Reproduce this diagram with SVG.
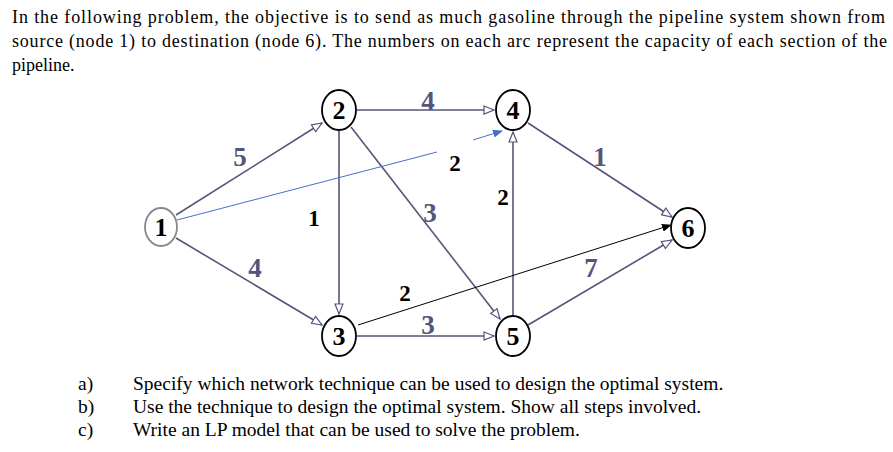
<svg xmlns="http://www.w3.org/2000/svg" width="893" height="452" viewBox="0 0 893 452">
<style>
text{font-family:"Liberation Serif","Times New Roman",Tinos,"DejaVu Serif",serif}
.t{font-size:18px;fill:#000}
.e{stroke:#55557a;stroke-width:1.6;fill:none;marker-end:url(#oa)}
.n ellipse{fill:#fff;stroke:#000;stroke-width:1.8}
</style>
<defs>
<marker id="oa" markerWidth="12" markerHeight="10" refX="11" refY="5" orient="auto" markerUnits="userSpaceOnUse"><path d="M1,1 L11,5 L1,9 Z" fill="#fff" stroke="#55557a" stroke-width="1.2"/></marker>
<marker id="fb" markerWidth="10" markerHeight="8" refX="9" refY="4" orient="auto" markerUnits="userSpaceOnUse"><path d="M0,0 L10,4 L0,8 Z" fill="#4472c4"/></marker>
<marker id="fk" markerWidth="10" markerHeight="8" refX="9" refY="4" orient="auto" markerUnits="userSpaceOnUse"><path d="M0,0 L10,4 L0,8 Z" fill="#000"/></marker>
</defs>
<text class="t" x="12" y="23" textLength="873" lengthAdjust="spacing">In the following problem, the objective is to send as much gasoline through the pipeline system shown from</text>
<text class="t" x="12" y="47" textLength="875" lengthAdjust="spacing">source (node 1) to destination (node 6). The numbers on each arc represent the capacity of each section of the</text>
<text class="t" x="12" y="71">pipeline.</text>
<g id="connectors">
<line class="e" x1="176" y1="215" x2="322" y2="123"/>
<line class="e" x1="176" y1="238" x2="322" y2="325"/>
<line class="e" x1="357" y1="110" x2="494" y2="110"/>
<line class="e" x1="339" y1="131" x2="339" y2="314"/>
<line class="e" x1="351" y1="127" x2="500" y2="319"/>
<line class="e" x1="357" y1="336" x2="494" y2="336"/>
<line class="e" x1="513" y1="315" x2="513" y2="132"/>
<line class="e" x1="528" y1="123" x2="672" y2="217"/>
<line class="e" x1="528" y1="325" x2="672" y2="240"/>
<line x1="177" y1="220" x2="437" y2="152" stroke="#4472c4" stroke-width="1"/>
<line x1="473" y1="140" x2="502" y2="131" stroke="#4472c4" stroke-width="1" marker-end="url(#fb)"/>
<line x1="358" y1="325" x2="671" y2="225" stroke="#000" stroke-width="1" marker-end="url(#fk)"/>
</g>
<g font-size="26" font-weight="bold" text-anchor="middle">
<g id="n1" class="n"><ellipse cx="161" cy="227" rx="16" ry="19" style="stroke:#888"/><text x="161" y="236">1</text></g>
<g id="n2" class="n"><ellipse cx="339" cy="110" rx="17" ry="20"/><text x="339" y="119">2</text></g>
<g id="n3" class="n"><ellipse cx="339" cy="336" rx="17" ry="20"/><text x="339" y="345">3</text></g>
<g id="n4" class="n"><ellipse cx="513" cy="110" rx="17" ry="20"/><text x="513" y="119">4</text></g>
<g id="n5" class="n"><ellipse cx="513" cy="336" rx="17" ry="20"/><text x="513" y="345">5</text></g>
<g id="n6" class="n"><ellipse cx="688" cy="228" rx="17" ry="20"/><text x="688" y="237">6</text></g>
</g>
<g id="labels" font-weight="bold" text-anchor="middle">
<g font-size="27" fill="#55557a">
<text x="240" y="166">5</text>
<text x="428" y="110">4</text>
<text x="600" y="166">1</text>
<text x="430" y="222">3</text>
<text x="255" y="277">4</text>
<text x="591" y="277">7</text>
<text x="428" y="334">3</text>
</g>
<g font-size="23" fill="#000">
<text x="455" y="171">2</text>
<text x="314" y="226">1</text>
<text x="503" y="205">2</text>
<text x="405" y="301">2</text>
</g>
</g>
<g font-size="19.5">
<text x="78" y="390">a)</text>
<text x="78" y="413">b)</text>
<text x="78" y="436">c)</text>
<text x="133" y="390">Specify which network technique can be used to design the optimal system.</text>
<text x="133" y="413">Use the technique to design the optimal system. Show all steps involved.</text>
<text x="133" y="436">Write an LP model that can be used to solve the problem.</text>
</g>
</svg>
